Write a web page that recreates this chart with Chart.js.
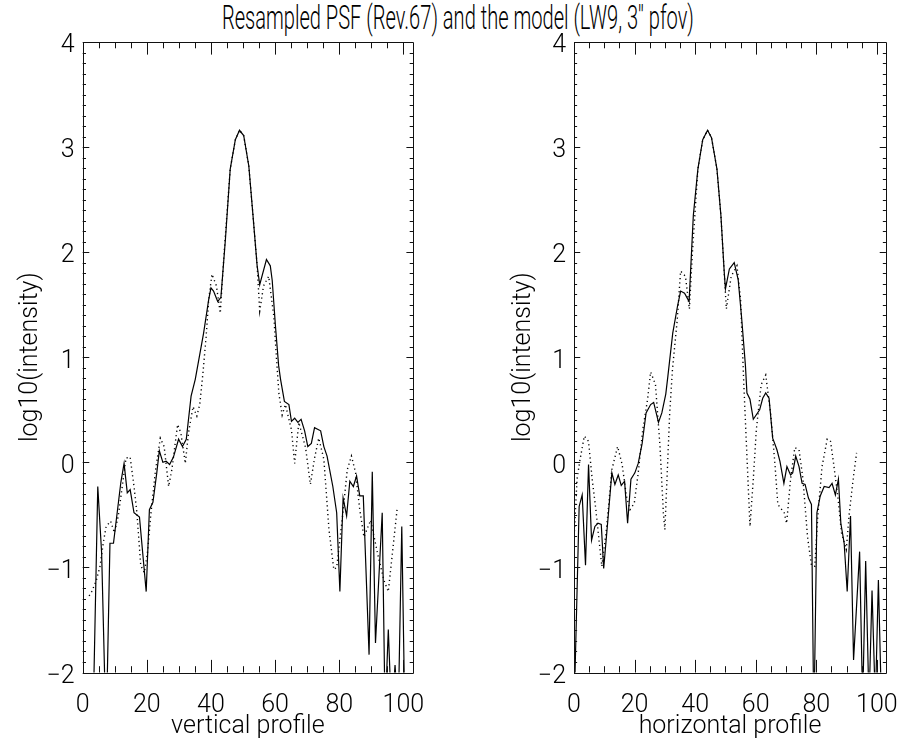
<!DOCTYPE html>
<html>
<head>
<meta charset="utf-8">
<title>Resampled PSF</title>
<script src="https://cdn.jsdelivr.net/npm/chart.js@4.4.0/dist/chart.umd.min.js"></script>
<style>
  body { margin: 0; background: #fff; }
  #wrap { position: relative; width: 916px; height: 740px; overflow: hidden; }
  #title {
    position: absolute; left: 0; top: -1px; width: 916px; text-align: center;
    font-family: Roboto, 'Liberation Sans', sans-serif; font-weight: 300;
    font-size: 33px; line-height: 38px; color: #000; white-space: nowrap;
  }
  #title span { display: inline-block; transform-origin: 50% 50%; }
  canvas { position: absolute; top: 0; }
</style>
</head>
<body>
<div id="wrap">
  <div id="title"><span>Resampled PSF (Rev.67) and the model (LW9, 3'' pfov)</span></div>
  <canvas id="vertChart" width="458" height="740" style="left:0"></canvas>
  <canvas id="horzChart" width="458" height="740" style="left:458px"></canvas>
</div>
<script>
// tick labels
var xTicks = [0, 20, 40, 60, 80, 100];
var yTicks = [-2, -1, 0, 1, 2, 3, 4];

// vertical profile - measured PSF (solid)
var vertPsfX = [0, 3.2, 4.7, 5.9, 7.3, 8.5, 9.6, 11.9, 12.9, 13.9, 14.8, 16.0, 17.7, 19.8, 20.8, 21.9, 23.1, 23.9, 25.0, 26.0,
  27.1, 28.3, 29.9, 31.1, 32.3, 33.8, 35.1, 37.7, 39.3, 40.0, 40.8, 42.1, 43.1, 44.5, 46.0, 47.6, 48.9, 50.2, 51.8, 53.1,
  54.4, 55.2, 57.3, 58.5, 59.1, 60.1, 61.1, 61.7, 62.9, 64.3, 65.1, 66.1, 67.1, 68.1, 69.2, 70.2, 71.3, 72.3, 74.2, 75.2,
  76.2, 78.0, 79.2, 80.2, 81.2, 82.3, 83.3, 84.4, 85.4, 86.4, 87.5, 89.3, 90.3, 91.3, 93.4, 94.3, 95.3, 96.3, 97.4, 98.4,
  99.5, 100.5];
var vertPsfY = [-2.4, -2.5, -0.23, -0.86, -2.6, -0.77, -0.77, -0.19, -0.01, -0.29, -0.26, -0.48, -0.52, -1.23, -0.45, -0.38, -0.10, 0.11, 0.00, 0.01,
  -0.02, 0.05, 0.22, 0.15, 0.22, 0.63, 0.79, 1.23, 1.55, 1.66, 1.63, 1.53, 1.57, 2.12, 2.79, 3.07, 3.16, 3.11, 2.82, 2.35,
  1.87, 1.69, 1.93, 1.87, 1.73, 1.30, 0.92, 0.79, 0.58, 0.55, 0.39, 0.42, 0.38, 0.41, 0.30, 0.15, 0.18, 0.33, 0.30, 0.15,
  0.06, -0.23, -0.48, -1.23, -0.34, -0.51, -0.18, -0.23, -0.13, -0.32, -0.32, -1.83, -0.09, -1.72, -0.48, -2.4, -1.59, -2.4, -1.93, -2.4,
  -0.61, -2.5];

// vertical profile - model (dotted)
var vertModelX = [2.0, 2.8, 4.2, 5.4, 6.4, 7.3, 8.7, 9.9, 11.1, 12.2, 13.5, 14.8, 16.0, 16.9, 18.1, 19.2, 20.2, 21.2, 22.6, 24.2,
  25.4, 26.8, 27.8, 29.6, 30.6, 32.0, 33.0, 34.4, 35.6, 36.5, 37.5, 38.5, 39.3, 40.3, 41.7, 42.9, 44.0, 46.0, 47.6, 48.9,
  50.2, 51.8, 53.1, 54.4, 55.2, 56.4, 58.0, 59.6, 60.4, 61.2, 62.2, 63.2, 65.1, 66.1, 67.4, 69.5, 71.0, 72.3, 73.6, 75.2,
  76.8, 78.3, 79.2, 80.9, 82.5, 83.8, 85.1, 86.4, 87.7, 89.8, 91.9, 93.9, 95.3, 96.6, 98.1];
var vertModelY = [-1.27, -1.23, -1.13, -0.99, -0.77, -0.61, -0.56, -0.67, -0.51, -0.26, 0.04, 0.05, -0.23, -0.48, -0.98, -1.05, -0.86, -0.51, -0.10, 0.23,
  0.15, -0.23, -0.07, 0.36, 0.28, -0.01, 0.28, 0.53, 0.44, 0.55, 0.85, 1.20, 1.55, 1.79, 1.68, 1.42, 1.95, 2.79, 3.07, 3.16,
  3.11, 2.82, 2.35, 1.87, 1.44, 1.68, 1.77, 1.39, 1.00, 0.65, 0.45, 0.55, 0.31, -0.01, 0.38, 0.14, -0.21, 0.04, 0.23, 0.03,
  -0.64, -1.02, -1.00, -0.55, -0.07, 0.06, -0.10, -0.45, -0.71, -0.55, -0.86, -1.12, -1.23, -0.86, -0.43];

// horizontal profile - measured PSF (solid)
var horzPsfX = [0, 1.7, 2.7, 3.8, 4.8, 5.8, 6.9, 7.9, 9.0, 9.8, 11.0, 12.5, 13.5, 14.6, 15.6, 16.7, 17.7, 18.8, 20.1, 21.2,
  22.5, 23.8, 25.3, 26.3, 27.9, 29.0, 30.3, 31.0, 32.6, 34.2, 35.2, 36.5, 38.0, 39.4, 40.9, 42.5, 44.1, 45.4, 47.2, 48.5,
  49.6, 50.0, 51.3, 52.9, 54.2, 55.3, 56.6, 57.1, 58.1, 59.2, 61.3, 62.3, 63.3, 64.4, 65.6, 67.0, 68.0, 69.3, 70.3, 71.5,
  72.2, 73.2, 74.3, 75.3, 76.3, 77.4, 78.4, 79.2, 80.2, 81.3, 82.6, 84.2, 85.2, 86.3, 87.3, 88.1, 89.2, 90.2, 91.3, 92.3,
  94.3, 95.3, 96.3, 97.4, 98.4, 99.5, 100.5, 101.5];
var horzPsfY = [-2.4, -0.42, -0.31, -0.98, -0.02, -0.74, -0.61, -0.58, -0.59, -1.01, -0.61, -0.10, -0.21, -0.12, -0.22, -0.18, -0.58, -0.16, -0.10, -0.01,
  0.18, 0.47, 0.55, 0.57, 0.38, 0.47, 0.65, 0.82, 1.23, 1.49, 1.63, 1.61, 1.53, 2.35, 2.79, 3.07, 3.16, 3.09, 2.79, 2.35,
  1.81, 1.65, 1.84, 1.90, 1.74, 1.39, 0.92, 0.66, 0.60, 0.41, 0.50, 0.61, 0.66, 0.61, 0.23, 0.12, 0.01, -0.20, -0.04, -0.12,
  -0.10, 0.06, -0.04, -0.20, -0.21, -0.34, -0.40, -2.5, -0.48, -0.32, -0.23, -0.24, -0.20, -0.31, -0.16, -0.58, -0.77, -1.23, -0.51, -1.88,
  -0.85, -2.3, -0.94, -2.3, -1.22, -2.3, -1.12, -2.3];

// horizontal profile - model (dotted)
var horzModelX = [0.0, 1.0, 1.9, 3.4, 4.8, 6.0, 7.1, 8.7, 9.2, 10.7, 12.5, 14.4, 15.9, 17.3, 18.5, 19.9, 21.2, 22.7, 24.3, 25.3,
  26.9, 28.4, 29.5, 30.0, 30.7, 31.6, 32.5, 34.1, 35.2, 36.8, 38.1, 39.1, 40.9, 42.5, 44.1, 45.4, 47.2, 48.5, 50.3, 51.9,
  53.8, 55.0, 56.0, 58.1, 59.2, 60.2, 61.8, 63.3, 64.9, 66.3, 67.3, 69.4, 70.2, 71.5, 72.9, 74.3, 75.6, 77.1, 78.4, 79.5,
  80.5, 81.9, 83.6, 84.7, 85.7, 87.1, 88.3, 89.9, 90.9, 92.3, 93.3];
var horzModelY = [-0.74, -0.16, 0.01, 0.25, 0.20, -0.16, -0.42, -0.86, -0.99, -0.64, -0.07, 0.15, -0.02, -0.32, -0.45, -0.39, -0.10, 0.31, 0.60, 0.86,
  0.74, 0.15, -0.48, -0.64, -0.16, 0.47, 0.88, 1.36, 1.82, 1.77, 1.46, 2.00, 2.79, 3.07, 3.16, 3.09, 2.79, 2.35, 1.46, 1.77,
  1.87, 1.55, 0.79, -0.61, -0.16, 0.31, 0.74, 0.83, 0.47, 0.00, -0.40, -0.48, -0.58, -0.16, 0.14, 0.12, -0.16, -0.71, -0.98, -0.99,
  -0.51, -0.04, 0.22, 0.20, -0.01, -0.32, -0.67, -0.83, -0.48, -0.13, 0.09];

var fontFamily = "Roboto, 'Liberation Sans', sans-serif";
var labelFont = { family: fontFamily, size: 25, weight: '300' };
var axisTitleFont = { family: fontFamily, size: 25, weight: '300', lineHeight: 1.0 };

// squeeze the title to the width of the original
var titleSpan = document.querySelector('#title span');
titleSpan.style.transform = 'scaleX(' + (472 / titleSpan.getBoundingClientRect().width) + ')';

function points(xs, ys) {
  return xs.map(function (x, i) { return { x: x, y: ys[i] }; });
}

// IDL style box with inward ticks on all four sides
var idlFrame = {
  id: 'idlFrame',
  afterDatasetsDraw: function (chart) {
    var ctx = chart.ctx, a = chart.chartArea;
    var x = chart.scales.x, y = chart.scales.y;
    var w = a.right - a.left, h = a.bottom - a.top;
    ctx.save();
    ctx.strokeStyle = '#111';
    ctx.lineWidth = 1;
    ctx.beginPath();
    ctx.rect(Math.round(a.left) + 0.5, Math.round(a.top) + 0.5, Math.round(w), Math.round(h));
    for (var v = 0; v <= x.max; v += 5) {
      var px = Math.round(x.getPixelForValue(v)) + 0.5;
      var len = v % 20 === 0 ? 0.02 * h : 0.01 * h;
      ctx.moveTo(px, a.bottom); ctx.lineTo(px, a.bottom - len);
      ctx.moveTo(px, a.top); ctx.lineTo(px, a.top + len);
    }
    for (var i = 0; i <= 60; i++) {
      var py = Math.round(y.getPixelForValue(-2 + i / 10)) + 0.5;
      var l2 = i % 10 === 0 ? 0.02 * w : 0.01 * w;
      ctx.moveTo(a.left, py); ctx.lineTo(a.left + l2, py);
      ctx.moveTo(a.right, py); ctx.lineTo(a.right - l2, py);
    }
    ctx.stroke();
    ctx.restore();
  }
};

function makeChart(id, psfX, psfY, modelX, modelY, xTitle, pad, yWidth) {
  var ctx = document.getElementById(id).getContext('2d');
  return new Chart(ctx, {
    type: 'line',
    data: {
      datasets: [{
        label: 'PSF',
        data: points(psfX, psfY),
        borderColor: '#000',
        borderWidth: 1.2,
        pointRadius: 0,
        tension: 0
      }, {
        label: 'model',
        data: points(modelX, modelY),
        borderColor: '#000',
        borderWidth: 1.4,
        borderDash: [1.2, 3.2],
        pointRadius: 0,
        tension: 0
      }]
    },
    options: {
      responsive: false,
      animation: false,
      layout: { padding: pad },
      plugins: { legend: { display: false }, tooltip: { enabled: false } },
      scales: {
        x: {
          type: 'linear',
          min: 0,
          max: 103,
          grid: { display: false, drawTicks: false },
          border: { display: false },
          afterBuildTicks: function (s) { s.ticks = xTicks.map(function (v) { return { value: v }; }); },
          afterFit: function (s) { s.height = 740 - 672.5 - pad.bottom; },
          ticks: { color: '#000', padding: 18, maxRotation: 0, autoSkip: false, font: labelFont },
          title: { display: true, text: xTitle, color: '#000', padding: { top: 0, bottom: 0 }, font: axisTitleFont }
        },
        y: {
          min: -2,
          max: 4,
          grid: { display: false, drawTicks: false },
          border: { display: false },
          afterBuildTicks: function (s) { s.ticks = yTicks.map(function (v) { return { value: v }; }); },
          afterFit: function (s) { s.width = yWidth; },
          ticks: {
            color: '#000', padding: 8, labelOffset: 4, font: labelFont,
            callback: function (v) { return String(v).replace('-', '\u2212'); }
          },
          title: { display: true, text: 'log10(intensity)', color: '#000', padding: { top: 4, bottom: 4 }, font: labelFont }
        }
      }
    },
    plugins: [idlFrame]
  });
}

makeChart('vertChart', vertPsfX, vertPsfY, vertModelX, vertModelY, 'vertical profile',
  { left: 12, right: 45, top: 42, bottom: 1 }, 70.7);
makeChart('horzChart', horzPsfX, horzPsfY, horzModelX, horzModelY, 'horizontal profile',
  { left: 47, right: 11, top: 42, bottom: 1 }, 69);
</script>
</body>
</html>
